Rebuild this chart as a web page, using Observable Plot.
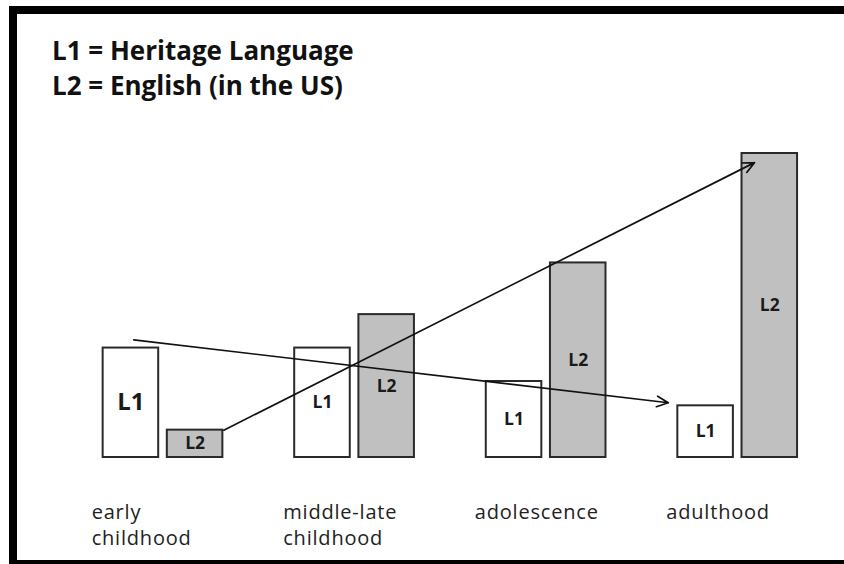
<!DOCTYPE html>
<html>
<head>
<meta charset="utf-8">
<script src="https://cdn.jsdelivr.net/npm/d3@7"></script>
<script src="https://cdn.jsdelivr.net/npm/@observablehq/plot@0.6"></script>
<style>
  html, body { margin: 0; padding: 0; background: #fff; width: 844px; height: 564px; overflow: hidden; }
  #frame { position: absolute; left: 9px; top: 6px; width: 900px; height: 562px; box-sizing: border-box;
           border-top: 8px solid #000; border-left: 8px solid #000; border-bottom: 8px solid #000; }
  #title { position: absolute; left: 52px; top: 33px; font-family: "Open Sans", sans-serif; font-weight: bold;
           font-size: 26px; line-height: 35px; color: #111; white-space: nowrap; }
  #chart { position: absolute; left: 0; top: 110px; }
</style>
</head>
<body>
<div id="frame"></div>
<div id="title">L1 = Heritage Language<br>L2 = English (in the US)</div>
<div id="chart"></div>
<script>
// ---- data (relative proficiency, 0–10) ----
const stages = ["early childhood", "middle-late childhood", "adolescence", "adulthood"];
const stageLabels = ["early\nchildhood", "middle-late\nchildhood", "adolescence", "adulthood"];
const languages = ["L1", "L2"];
const l1Values = [3.6, 3.6, 2.5, 1.7];   // Heritage Language
const l2Values = [0.9, 4.7, 6.4, 10];    // English

// ---- derived tables ----
const bars = stages.flatMap((s, i) => [
  {stage: s, i, lang: languages[0], value: l1Values[i]},
  {stage: s, i, lang: languages[1], value: l2Values[i]}
]);
const last = stages.length - 1;
const trends = [
  {lang: "L1", x1: 0 - 0.15, y1: l1Values[0] + 0.27, x2: last - 0.36, y2: l1Values[last] + 0.1},
  {lang: "L2", x1: 0 + 0.32, y1: l2Values[0], x2: last + 0.09, y2: l2Values[last] - 0.3}
];

// bar extents within each stage (in stage units)
const barX1 = d => d.lang === "L1" ? d.i - 0.31 : d.i + 0.025;
const barX2 = d => d.lang === "L1" ? d.i - 0.02 : d.i + 0.315;

const chart = Plot.plot({
  width: 844,
  height: 450,
  marginTop: 43,
  marginBottom: 103,
  marginLeft: 66.25,
  marginRight: 11.5,
  x: {domain: [-0.5, 3.5], axis: null},
  y: {domain: [0, 10], axis: null},
  style: {background: "transparent", overflow: "visible"},
  marks: [
    Plot.rect(bars, {
      x1: barX1, x2: barX2, y1: 0, y2: "value",
      fill: d => d.lang === "L1" ? "#ffffff" : "#c0c0c0",
      stroke: "#2a2a2a", strokeWidth: 2
    }),
    Plot.arrow(trends, {
      x1: "x1", y1: "y1", x2: "x2", y2: "y2",
      stroke: "#111", strokeWidth: 1.7, headLength: 11, headAngle: 50
    }),
    Plot.text(bars, {
      x: d => (barX1(d) + barX2(d)) / 2,
      y: d => d.value / 2,
      text: "lang",
      fontSize: d => (d.i === 0 && d.lang === "L1") ? 24 : 17.5,
      fontWeight: "bold",
      fontFamily: "Open Sans, sans-serif",
      fill: "#1a1a1a"
    }),
    Plot.text(stageLabels, {
      x: (d, i) => i - 0.37,
      frameAnchor: "bottom",
      textAnchor: "start",
      lineAnchor: "top",
      dy: 43,
      lineHeight: 1.3,
      fontSize: 20,
      fontFamily: "Open Sans, sans-serif",
      fill: "#222"
    })
  ]
});
// slightly wider tracking for the stage labels (last text mark)
const textGroups = chart.querySelectorAll('g[aria-label="text"]');
if (textGroups.length) textGroups[textGroups.length - 1].style.letterSpacing = "0.8px";
document.getElementById("chart").appendChild(chart);
</script>
</body>
</html>
